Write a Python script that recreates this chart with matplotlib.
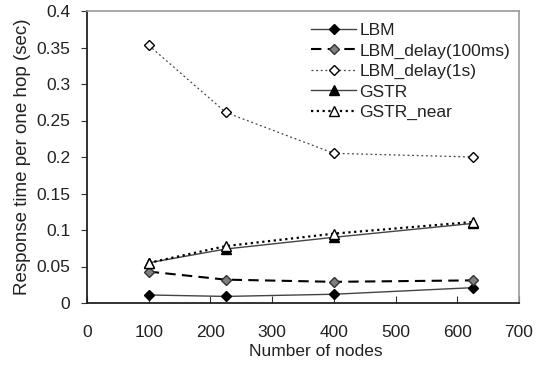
import matplotlib
matplotlib.use('Agg')
from matplotlib import pyplot as plt
from matplotlib.ticker import FuncFormatter

plt.rcParams['font.family'] = ['Liberation Sans', 'DejaVu Sans']

# Data
nodes = [100, 225, 400, 625]
lbm = [0.011, 0.009, 0.012, 0.021]
lbm_delay_100ms = [0.043, 0.032, 0.029, 0.031]
lbm_delay_1s = [0.353, 0.261, 0.205, 0.200]
gstr = [0.055, 0.074, 0.090, 0.109]
gstr_near = [0.055, 0.078, 0.095, 0.111]

W, H = 546, 365
fig = plt.figure(figsize=(W / 100, H / 100), dpi=100)
ax = fig.add_axes([87 / W, 62 / H, 432 / W, 292 / H])

ax.plot(nodes, lbm, color='#444444', lw=1, marker='D', ms=4.8,
        mfc='black', mec='black', label='LBM')
ax.plot(nodes, lbm_delay_100ms, color='black', lw=1.5, ls=(0, (5, 3)), marker='D', ms=4.8,
        mfc='#808080', mec='#333333', label='LBM_delay(100ms)')
ax.plot(nodes, lbm_delay_1s, color='#444444', lw=0.9, ls=(0, (1.5, 2.2)), marker='D', ms=4.8,
        mfc='white', mec='black', label='LBM_delay(1s)')
ax.plot(nodes, gstr, color='#444444', lw=1, marker='^', ms=7,
        mfc='black', mec='black', label='GSTR')
ax.plot(nodes, gstr_near, color='black', lw=1.6, ls=(0, (1, 1.6)), marker='^', ms=7,
        mfc='white', mec='black', label='GSTR_near')

ax.set_xlim(0, 700)
ax.set_ylim(0, 0.4)
ax.set_xticks(range(0, 701, 100))
ax.set_yticks([0, 0.05, 0.1, 0.15, 0.2, 0.25, 0.3, 0.35, 0.4])
ax.yaxis.set_major_formatter(FuncFormatter(lambda v, p: ('%g' % round(v, 2))))
ax.tick_params(axis='x', direction='in', length=5, labelsize=12.5, pad=16, colors='#333333')
ax.tick_params(axis='y', direction='out', length=4, labelsize=12.5, pad=8, colors='#333333')
ax.tick_params(labelcolor='#222222')

for s in ['top', 'right']:
    ax.spines[s].set_color('#999999')
    ax.spines[s].set_linewidth(1.2)
for s in ['left', 'bottom']:
    ax.spines[s].set_color('#222222')
    ax.spines[s].set_linewidth(1.3)

ax.set_xlabel('Number of nodes', fontsize=12.5, color='#222222')
ax.xaxis.set_label_coords((316 - 87) / 432, (303 - 344) / 292)
ax.set_ylabel('Response time per one hop (sec)', fontsize=13.5, color='#222222')
ax.yaxis.set_label_coords((31 - 87) / 432, 0.5)

ax.legend(loc='upper left', bbox_to_anchor=(311 / W, 1 - 23 / H),
          bbox_transform=fig.transFigure, frameon=False, fontsize=12.5,
          handlelength=2.6, handletextpad=0.2, labelspacing=0.3,
          borderpad=0, borderaxespad=0, labelcolor='#222222')

fig.savefig('out.png', dpi=100)
